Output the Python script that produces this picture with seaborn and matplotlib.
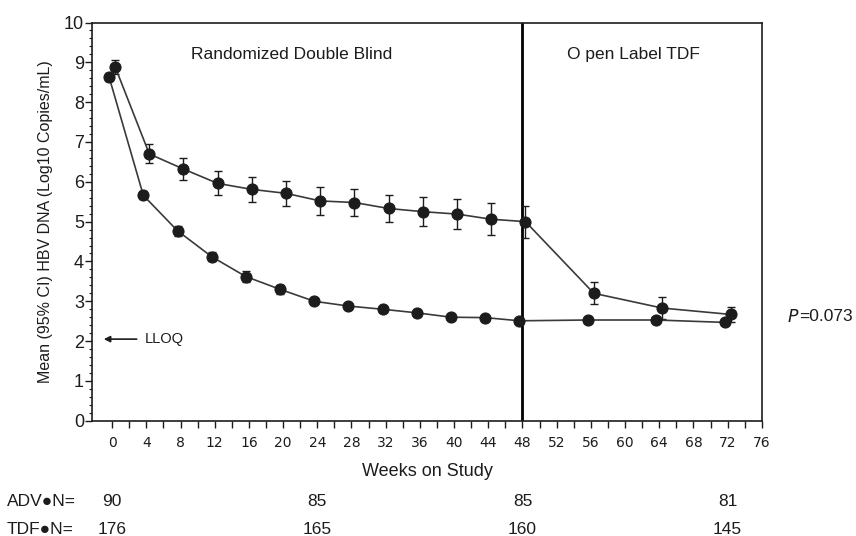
import numpy as np
import pandas as pd
import matplotlib
matplotlib.use("Agg")
import matplotlib.pyplot as plt
import matplotlib.transforms as mtransforms
import seaborn as sns

# ---- data ----
weeks = [0, 4, 8, 12, 16, 20, 24, 28, 32, 36, 40, 44, 48, 56, 64, 72]
adv_mean = [8.89, 6.70, 6.32, 5.96, 5.81, 5.71, 5.52, 5.48, 5.33, 5.25, 5.19, 5.06, 5.00, 3.20, 2.83, 2.67]
adv_ci = [0.18, 0.24, 0.27, 0.30, 0.32, 0.32, 0.35, 0.35, 0.35, 0.36, 0.37, 0.40, 0.40, 0.28, 0.27, 0.18]
tdf_mean = [8.63, 5.66, 4.77, 4.12, 3.62, 3.30, 3.00, 2.88, 2.80, 2.71, 2.60, 2.59, 2.51, 2.53, 2.53, 2.47]
tdf_ci = [0.10, 0.10, 0.12, 0.12, 0.13, 0.12, 0.08, 0.08, 0.08, 0.08, 0.05, 0.05, 0.05, 0.04, 0.05, 0.05]
n_weeks = [0, 24, 48, 72]
adv_n = ["90", "85", "85", "81"]
tdf_n = ["176", "165", "160", "145"]
xtick_labels = [str(w) for w in range(0, 77, 4)]
lloq = 2.05
p_text = "=0.073"

sns.set_style("ticks")
plt.rcParams["font.family"] = ["Liberation Sans", "DejaVu Sans"]

ink = "#1c1c1c"
line_c = "#3a3a3a"

fig = plt.figure(figsize=(8.56, 5.36), dpi=100)
ax = fig.add_axes([0.108, 0.215, 0.782, 0.743])

df = pd.concat([
    pd.DataFrame({"week": np.array(weeks) + 0.35, "mean": adv_mean, "ci": adv_ci, "arm": "ADV"}),
    pd.DataFrame({"week": np.array(weeks) - 0.35, "mean": tdf_mean, "ci": tdf_ci, "arm": "TDF"}),
])

for arm in ["ADV", "TDF"]:
    sub = df[df["arm"] == arm]
    ax.errorbar(sub["week"], sub["mean"], yerr=sub["ci"], fmt="none",
                ecolor=ink, elinewidth=1.0, capsize=3, capthick=1.0, zorder=3)
    sns.lineplot(data=sub, x="week", y="mean", ax=ax, color=line_c, lw=1.2,
                 marker="o", markersize=8, markerfacecolor=ink,
                 markeredgecolor=ink, zorder=4, legend=False, sort=False)

ax.axvline(48, color="black", lw=2.0, zorder=2)

ax.set_xlim(-2.3, 76)
ax.set_ylim(0, 10)
ax.set_xticks(range(0, 77, 4))
ax.set_xticklabels(xtick_labels, family="Liberation Sans Narrow", fontsize=10, color=ink)
ax.set_xticks(range(0, 77, 2), minor=True)
ax.set_yticks(range(0, 11))
ax.set_yticklabels([str(i) for i in range(0, 11)], fontsize=13, color=ink)
ax.set_yticks(np.arange(0, 10.01, 0.2), minor=True)
ax.tick_params(axis="x", which="both", direction="out", length=5, width=1.0, color=ink, pad=6)
ax.tick_params(axis="y", which="major", direction="out", length=5, width=1.0, color=ink, pad=1)
ax.tick_params(axis="y", which="minor", direction="out", length=2.5, width=0.8, color=ink)
for s in ax.spines.values():
    s.set_color(ink)
    s.set_linewidth(1.2)

ax.set_xlabel("Weeks on Study", fontsize=13, color=ink, labelpad=9)
ax.set_ylabel("Mean (95% CI) HBV DNA (Log10 Copies/mL)", fontsize=11.5, color=ink, labelpad=8)

ax.text(21, 9.19, "Randomized Double Blind", ha="center", va="center", fontsize=12.5, color=ink)
ax.text(61, 9.19, "O pen Label TDF", ha="center", va="center", fontsize=12.5, color=ink)

ax.annotate("", xy=(-1.3, lloq), xytext=(3.2, lloq),
            arrowprops=dict(arrowstyle="-|>", color=ink, lw=1.2, mutation_scale=9))
ax.text(3.8, lloq, "LLOQ", ha="left", va="center", fontsize=10.5, color=ink)

fig.text(0.919, 1 - 316.7 / 536, "$P$" , ha="left", va="center", fontsize=12.5, color=ink)
fig.text(0.934, 1 - 316.7 / 536, p_text, ha="left", va="center", fontsize=12.5, color=ink)

trans = mtransforms.blended_transform_factory(ax.transData, fig.transFigure)
y_adv = 1 - 501 / 536
y_tdf = 1 - 529 / 536
fig.text(0.008, y_adv, "ADV\u25cfN=", ha="left", va="center", fontsize=12.5, color=ink)
fig.text(0.008, y_tdf, "TDF\u25cfN=", ha="left", va="center", fontsize=12.5, color=ink)
for w, a, t in zip(n_weeks, adv_n, tdf_n):
    ax.text(w, y_adv, a, transform=trans, ha="center", va="center", fontsize=12.5, color=ink)
    ax.text(w, y_tdf, t, transform=trans, ha="center", va="center", fontsize=12.5, color=ink)

fig.savefig("out.png", dpi=100)
